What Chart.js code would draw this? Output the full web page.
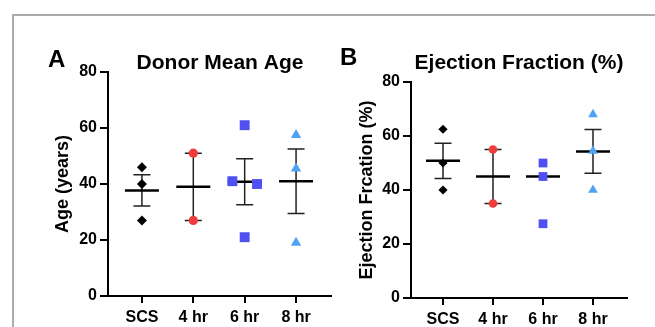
<!doctype html>
<html lang="en">
  <head>
    <meta charset="utf-8">
    <title>Donor age and ejection fraction</title>
    <style>
      * { margin: 0; padding: 0; }
      body { width: 655px; height: 327px; background: #fff; position: relative; overflow: hidden; }
      .frame {
        position: absolute; left: 12px; top: 14px; right: -4px; bottom: -4px;
        border-top: 2px solid #ababab; border-left: 2px solid #ababab;
      }
      .box { position: absolute; top: 0; height: 327px; }
      #boxA { left: 0; width: 340px; }
      #boxB { left: 330px; width: 325px; }
    </style>
  </head>
  <body>
    <div class="frame"></div>
    <div class="box" id="boxA"><canvas id="chartA"></canvas></div>
    <div class="box" id="boxB"><canvas id="chartB"></canvas></div>
    <script src="https://cdn.jsdelivr.net/npm/chart.js/dist/chart.umd.min.js"></script>
    <script>
// groups on the x axis
const groups = ['SCS', '4 hr', '6 hr', '8 hr'];
const yTicks = [0, 20, 40, 60, 80];

// panel A - donor age (years), one list per group
const ageSCS = [46, 40, 27];
const age4hr = [51, 27];
const age6hr = [61, 41, 40, 21];
const age8hr = [57.5, 45.5, 19];
const ageMean = [37.7, 39, 40.8, 41];
const ageSem = [5.6, 12, 8.2, 11.5];

// panel B - ejection fraction (%)
const efSCS = [62.5, 50, 40];
const ef4hr = [55, 35];
const ef6hr = [50, 45, 27.5];
const ef8hr = [68, 54.5, 40];
const efMean = [50.8, 45, 45, 54.3];
const efSem = [6.5, 10, 0, 8.1];

const FONT = "'Liberation Sans', Arial, sans-serif";
Chart.defaults.font.family = FONT;
Chart.defaults.color = '#000';

// group marker looks
const looks = [
  {style: 'rectRot', color: '#000000'},
  {style: 'circle', color: '#f03c3c'},
  {style: 'rect', color: '#4f4ff2'},
  {style: 'triangle', color: '#4fa3f5'}
];

// values that would sit on top of each other get pushed sideways
function spread(vals, i) {
  return vals.map((v, k) => {
    const close = [];
    vals.forEach((w, j) => { if (Math.abs(w - v) < 3) close.push(j); });
    if (close.length < 2) return {x: i + 1, y: v};
    const rank = close.indexOf(k);
    return {x: i + 1 + (rank - (close.length - 1) / 2) * 0.48, y: v};
  });
}

// mean line with SEM bars, under the points
const meanSem = {
  id: 'meanSem',
  beforeDatasetsDraw(chart, args, opts) {
    const {ctx, scales: {x, y}} = chart;
    ctx.save();
    opts.mean.forEach((m, i) => {
      const cx = x.getPixelForValue(i + 1);
      const my = y.getPixelForValue(m);
      if (opts.sem[i] > 0) {
        const hi = y.getPixelForValue(m + opts.sem[i]);
        const lo = y.getPixelForValue(m - opts.sem[i]);
        ctx.strokeStyle = '#222';
        ctx.lineWidth = 1.5;
        ctx.beginPath();
        ctx.moveTo(cx, hi); ctx.lineTo(cx, lo);
        ctx.moveTo(cx - 8.5, hi); ctx.lineTo(cx + 8.5, hi);
        ctx.moveTo(cx - 8.5, lo); ctx.lineTo(cx + 8.5, lo);
        ctx.stroke();
      }
      ctx.strokeStyle = '#000';
      ctx.lineWidth = 2.5;
      ctx.beginPath();
      ctx.moveTo(cx - 17, my); ctx.lineTo(cx + 17, my);
      ctx.stroke();
    });
    ctx.restore();
  }
};

// panel letter and title
const heading = {
  id: 'heading',
  afterDraw(chart, args, opts) {
    const {ctx} = chart;
    ctx.save();
    ctx.fillStyle = '#000';
    ctx.textBaseline = 'alphabetic';
    ctx.font = 'bold 24px ' + FONT;
    ctx.textAlign = 'left';
    ctx.fillText(opts.letter, opts.letterX, opts.letterY);
    ctx.font = 'bold 21px ' + FONT;
    ctx.textAlign = 'center';
    ctx.fillText(opts.title, opts.titleX, 69);
    ctx.restore();
  }
};

function makeChart(id, sets, mean, sem, cfg) {
  const datasets = sets.map((vals, i) => ({
    data: spread(vals, i),
    pointStyle: looks[i].style,
    backgroundColor: looks[i].color,
    borderColor: looks[i].color,
    borderWidth: 0,
    pointRadius: cfg.radius[i],
    pointHoverRadius: cfg.radius[i]
  }));
  return new Chart(document.getElementById(id), {
    type: 'scatter',
    data: {datasets},
    options: {
      responsive: true,
      maintainAspectRatio: false,
      animation: false,
      layout: {padding: {top: cfg.top, right: cfg.right, left: 0, bottom: 0}},
      plugins: {
        legend: {display: false},
        tooltip: {enabled: false},
        meanSem: {mean, sem},
        heading: cfg.heading
      },
      scales: {
        x: {
          type: 'linear',
          min: cfg.xMin,
          max: 4.68,
          afterBuildTicks: (s) => { s.ticks = groups.map((g, i) => ({value: i + 1})); },
          afterFit: (s) => { s.height = cfg.xHeight; },
          ticks: {
            autoSkip: false, maxRotation: 0, padding: 5,
            font: {size: 16, weight: 'bold'},
            callback: (v) => groups[Math.round(v) - 1]
          },
          grid: {drawOnChartArea: false, drawTicks: true, tickLength: 7, color: '#000', lineWidth: 2},
          border: {display: true, color: '#000', width: 2}
        },
        y: {
          min: 0,
          max: 80,
          afterBuildTicks: (s) => { s.ticks = yTicks.map(v => ({value: v})); },
          afterFit: (s) => { s.width = cfg.yWidth; },
          ticks: {padding: 3, font: {size: 16, weight: 'bold'}},
          grid: {drawOnChartArea: false, drawTicks: true, tickLength: 8, color: '#000', lineWidth: 2},
          border: {display: true, color: '#000', width: 2},
          title: {
            display: true,
            text: cfg.yTitle,
            font: {size: 18, weight: 'bold'},
            padding: {top: cfg.yTitlePad, bottom: 0}
          }
        }
      }
    },
    plugins: [meanSem, heading]
  });
}

makeChart('chartA', [ageSCS, age4hr, age6hr, age8hr], ageMean, ageSem, {
  radius: [5, 4.6, 7, 6],
  top: 72, right: 9, xHeight: 31, yWidth: 108, xMin: 0.34,
  yTitle: 'Age (years)', yTitlePad: 52,
  heading: {letter: 'A', letterX: 48, letterY: 67, title: 'Donor Mean Age', titleX: 220}
});

makeChart('chartB', [efSCS, ef4hr, ef6hr, ef8hr], efMean, efSem, {
  radius: [4.6, 4.3, 6.2, 5.6],
  top: 82, right: 28, xHeight: 29, yWidth: 81, xMin: 0.36,
  yTitle: 'Ejection Frcation (%)', yTitlePad: 26,
  heading: {letter: 'B', letterX: 10, letterY: 65, title: 'Ejection Fraction (%)', titleX: 189}
});
    </script>
  </body>
</html>
